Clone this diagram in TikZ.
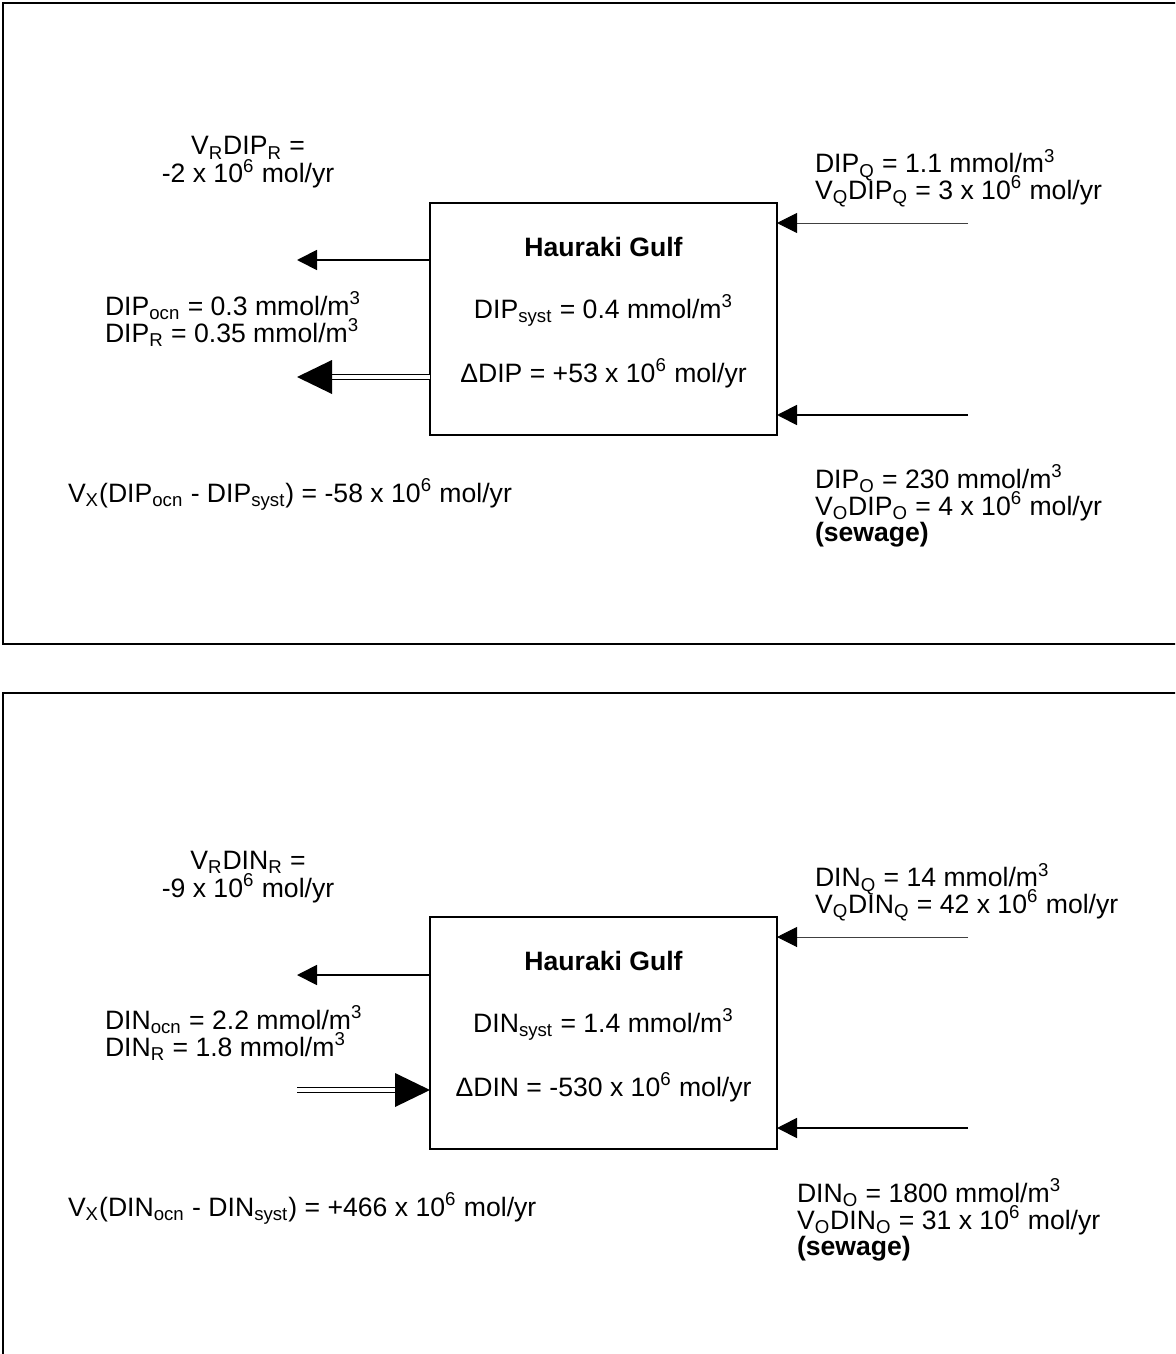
\documentclass[tikz,border=0pt]{standalone}
\usepackage{fontspec}
\setmainfont{Liberation Sans}
\usetikzlibrary{arrows.meta,calc}
\newcommand\sbs[1]{\textsubscript{#1}}
\newcommand\sps[1]{\textsuperscript{#1}}
\begin{document}
\begin{tikzpicture}[x=0.5pt,y=-0.5pt,
  every node/.style={inner sep=0pt, outer sep=0pt, font=\fontsize{13.3pt}{13.5pt}\selectfont},
  lbl/.style={anchor=base west},
  ctr/.style={anchor=base},
  bold/.style={font=\fontsize{13.3pt}{13.5pt}\selectfont\bfseries},
  gulf/.style={draw, line width=1pt, minimum width=173.5pt, minimum height=116pt, anchor=north west},
  thinarrow/.style={line width=0.9pt, -{Triangle[length=10pt,width=10pt]}},
  hairarrow/.style={line width=0.5pt, draw=black!75, -{Triangle[length=10pt,width=10pt,color=black,fill=black]}},
  dbl/.style={double, line width=0.7pt, double distance=1.8pt},
  frame/.style={line width=1.2pt}]
\clip (0,0) rectangle (1175,1354);
% frames
\draw[frame] (1185,3) -- (3,3) -- (3,644) -- (1185,644);
\draw[frame] (1185,693) -- (3,693) -- (3,1365);

% ---------- panel 1 (DIP) ----------
\node[gulf] (box1) at (430,203) {};
\node[ctr,bold] (t1) at (603.5,256) {Hauraki Gulf};
\node[ctr] (s1) at (603.5,318) {DIP\sbs{syst} = 0.4 mmol/m\sps{3}};
\node[ctr] (d1) at (603.5,382) {ΔDIP = +53 x 10\sps{6} mol/yr};

\node[ctr] (vr1a) at (248,155) {V\sbs{R}DIP\sbs{R} =};
\node[ctr] (vr1b) at (248,183) {-2 x 10\sps{6} mol/yr};
\node[lbl] (ocn1) at (105,315) {DIP\sbs{ocn} = 0.3 mmol/m\sps{3}};
\node[lbl] (rr1) at (105,342) {DIP\sbs{R} = 0.35 mmol/m\sps{3}};
\node[lbl] (x1) at (68,502) {V\sbs{X}(DIP\sbs{ocn} - DIP\sbs{syst}) = -58 x 10\sps{6} mol/yr};

\node[lbl] (q1a) at (815,172.7) {DIP\sbs{Q} = 1.1 mmol/m\sps{3}};
\node[lbl] (q1b) at (815,199.3) {V\sbs{Q}DIP\sbs{Q} = 3 x 10\sps{6} mol/yr};
\node[lbl] (o1a) at (815,488) {DIP\sbs{O} = 230 mmol/m\sps{3}};
\node[lbl] (o1b) at (815,515) {V\sbs{O}DIP\sbs{O} = 4 x 10\sps{6} mol/yr};
\node[lbl,bold] (o1c) at (815,541) {(sewage)};

\coordinate (l1a) at (297,260);
\draw[thinarrow] (box1.west |- l1a) -- (l1a);
\coordinate (l1b) at (297,377);
\draw[dbl] (box1.west |- l1b) -- ($(l1b)+(33,0)$);
\fill (l1b) -- ++(35,-17) -- ++(0,34) -- cycle;
\coordinate (r1a) at (968,223);
\draw[hairarrow] (r1a) -- (box1.east |- r1a);
\coordinate (r1b) at (968,415);
\draw[thinarrow] (r1b) -- (box1.east |- r1b);

% ---------- panel 2 (DIN) ----------
\begin{scope}[shift={(0,714)}]
\node[gulf] (box2) at (430,203) {};
\node[ctr,bold] (t2) at (603.5,256) {Hauraki Gulf};
\node[ctr] (s2) at (603.5,318) {DIN\sbs{syst} = 1.4 mmol/m\sps{3}};
\node[ctr] (d2) at (603.5,382) {ΔDIN = -530 x 10\sps{6} mol/yr};

\node[ctr] (vr2a) at (248,155) {V\sbs{R}DIN\sbs{R} =};
\node[ctr] (vr2b) at (248,183) {-9 x 10\sps{6} mol/yr};
\node[lbl] (ocn2) at (105,315) {DIN\sbs{ocn} = 2.2 mmol/m\sps{3}};
\node[lbl] (rr2) at (105,342) {DIN\sbs{R} = 1.8 mmol/m\sps{3}};
\node[lbl] (x2) at (68,502) {V\sbs{X}(DIN\sbs{ocn} - DIN\sbs{syst}) = +466 x 10\sps{6} mol/yr};

\node[lbl] (q2a) at (815,172.7) {DIN\sbs{Q} = 14 mmol/m\sps{3}};
\node[lbl] (q2b) at (815,199.3) {V\sbs{Q}DIN\sbs{Q} = 42 x 10\sps{6} mol/yr};
\node[lbl] (o2a) at (797,488) {DIN\sbs{O} = 1800 mmol/m\sps{3}};
\node[lbl] (o2b) at (797,515) {V\sbs{O}DIN\sbs{O} = 31 x 10\sps{6} mol/yr};
\node[lbl,bold] (o2c) at (797,541) {(sewage)};

\coordinate (l2a) at (297,261);
\draw[thinarrow] (box2.west |- l2a) -- (l2a);
\coordinate (l2b) at (297,376);
\coordinate (t2b) at (box2.west |- l2b);
\draw[dbl] (l2b) -- ($(t2b)+(-33,0)$);
\fill (t2b) -- ++(-35,-17) -- ++(0,34) -- cycle;
\coordinate (r2a) at (968,223);
\draw[hairarrow] (r2a) -- (box2.east |- r2a);
\coordinate (r2b) at (968,414);
\draw[thinarrow] (r2b) -- (box2.east |- r2b);
\end{scope}
\end{tikzpicture}
\end{document}
